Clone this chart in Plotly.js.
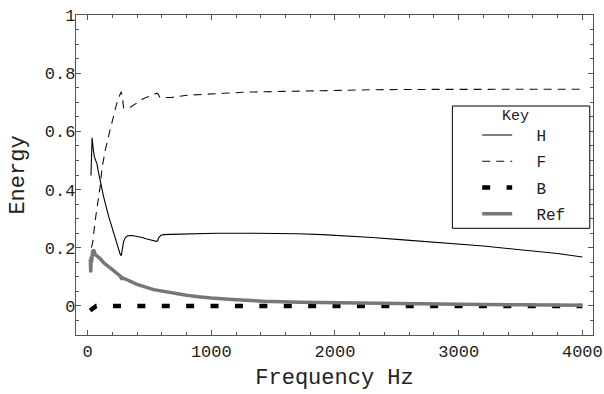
<!DOCTYPE html>
<html>
<head>
<meta charset="utf-8">
<script src="https://cdn.plot.ly/plotly-3.0.1.min.js"></script>
<style>
  html, body { margin: 0; padding: 0; background: #fff; }
  #chart { width: 604px; height: 394px; }
</style>
</head>
<body>
<div id="chart"></div>
<script>
// ---- data ----
const freqH = [27, 36, 45, 54, 65, 75, 85, 100, 129, 170, 210, 251, 263, 272, 281, 291, 305, 323, 360, 399, 440, 480, 520, 555, 565, 574, 593, 614, 669, 857, 1046, 1315, 1500, 1700, 1900, 2100, 2300, 2527, 2851, 3200, 3496, 3800, 4000];
const energyH = [0.448, 0.578, 0.54, 0.513, 0.50, 0.49, 0.465, 0.435, 0.376, 0.308, 0.25, 0.193, 0.178, 0.173, 0.195, 0.222, 0.235, 0.241, 0.242, 0.239, 0.235, 0.230, 0.226, 0.222, 0.224, 0.234, 0.243, 0.245, 0.246, 0.248, 0.25, 0.25, 0.25, 0.248, 0.245, 0.241, 0.235, 0.228, 0.218, 0.206, 0.193, 0.180, 0.168];

const freqF = [30, 40, 62, 103, 116, 143, 178, 205, 232, 255, 272, 280, 291, 345, 400, 453, 510, 560, 570, 585, 620, 682, 804, 911, 1100, 1300, 1500, 1718, 2000, 2300, 2527, 3000, 3500, 4000];
const energyF = [0.2, 0.216, 0.296, 0.415, 0.473, 0.536, 0.599, 0.65, 0.69, 0.72, 0.736, 0.72, 0.68, 0.683, 0.698, 0.713, 0.722, 0.731, 0.728, 0.716, 0.716, 0.717, 0.724, 0.727, 0.731, 0.735, 0.737, 0.739, 0.742, 0.743, 0.744, 0.745, 0.745, 0.745];

const freqB = [20, 45, 70, 4000];
const energyB = [-0.016, -0.006, 0, 0];

const freqRef = [22, 25, 28, 32, 40, 49, 55, 62, 80, 103, 130, 157, 200, 264, 272, 278, 285, 399, 534, 669, 800, 912, 1000, 1200, 1421, 1718, 2000, 2527, 3000, 3500, 4000];
const energyRef = [0.16, 0.115, 0.17, 0.15, 0.185, 0.193, 0.183, 0.176, 0.17, 0.162, 0.148, 0.14, 0.125, 0.102, 0.098, 0.091, 0.096, 0.074, 0.056, 0.045, 0.037, 0.031, 0.027, 0.021, 0.016, 0.013, 0.011, 0.0086, 0.006, 0.004, 0.002];

const seriesNames = ['H', 'F', 'B', 'Ref'];
const xTitle = 'Frequency Hz';
const yTitle = 'Energy';
const legendTitle = 'Key';

const FONT = 'Liberation Mono, Courier New, monospace';
const pad = s => '\u00a0\u00a0' + s;

const traces = [
  {x: freqH, y: energyH, name: pad(seriesNames[0]), mode: 'lines', legendgroup: 'a',
   line: {color: '#000', width: 1.1}},
  {x: freqF, y: energyF, name: pad(seriesNames[1]), mode: 'lines', legendgroup: 'b',
   line: {color: '#111', width: 1.1, dash: '8px,6px'}},
  {x: freqB, y: energyB, name: pad(seriesNames[2]), mode: 'lines', legendgroup: 'c',
   line: {color: '#000', width: 4.5, dash: '8px,16.4px'}},
  {x: freqRef, y: energyRef, name: pad(seriesNames[3]), mode: 'lines', legendgroup: 'd',
   line: {color: '#777', width: 3.5}}
];

const axisCommon = {
  showline: true, linecolor: '#555', linewidth: 1.2, mirror: 'ticks',
  ticks: 'inside', ticklen: 5, tickwidth: 1, tickcolor: '#555',
  showgrid: false, zeroline: false,
  tickfont: {family: FONT, size: 17, color: '#222'}
};

const layout = {
  width: 604, height: 394,
  margin: {l: 76, r: 11, t: 15, b: 59},
  paper_bgcolor: '#fff', plot_bgcolor: '#fff',
  font: {family: FONT, color: '#222'},
  showlegend: true,
  xaxis: Object.assign({}, axisCommon, {
    range: [-94, 4086], dtick: 1000, tick0: 0,
    minor: {dtick: 200, tick0: 0, ticks: 'inside', ticklen: 3, tickcolor: '#555', showgrid: false},
    title: {text: xTitle, font: {family: FONT, size: 22, color: '#222'}, standoff: 8}
  }),
  yaxis: Object.assign({}, axisCommon, {
    range: [-0.1, 1], dtick: 0.2, tick0: 0, ticklabelstandoff: -4,
    minor: {dtick: 0.05, tick0: 0, ticks: 'inside', ticklen: 3, tickcolor: '#555', showgrid: false},
    title: {text: yTitle, font: {family: FONT, size: 22, color: '#222'}, standoff: 14}
  }),
  legend: {
    x: 0.776, y: 0.678, xanchor: 'left', yanchor: 'top',
    bgcolor: 'rgba(0,0,0,0)', borderwidth: 0,
    font: {family: FONT, size: 16, color: '#222'},
    tracegroupgap: 2.5
  },
  annotations: [{
    text: legendTitle, xref: 'paper', yref: 'paper', x: 0.851, y: 0.682,
    xanchor: 'center', yanchor: 'middle', showarrow: false,
    font: {family: FONT, size: 15, color: '#222'}
  }],
  shapes: [{
    type: 'rect', xref: 'paper', yref: 'paper',
    x0: 0.728, x1: 0.9938, y0: 0.3334, y1: 0.7156,
    line: {color: '#000', width: 1}, fillcolor: '#fff', layer: 'above'
  }]
};

Plotly.newPlot('chart', traces, layout, {staticPlot: true, displayModeBar: false});
</script>
</body>
</html>
